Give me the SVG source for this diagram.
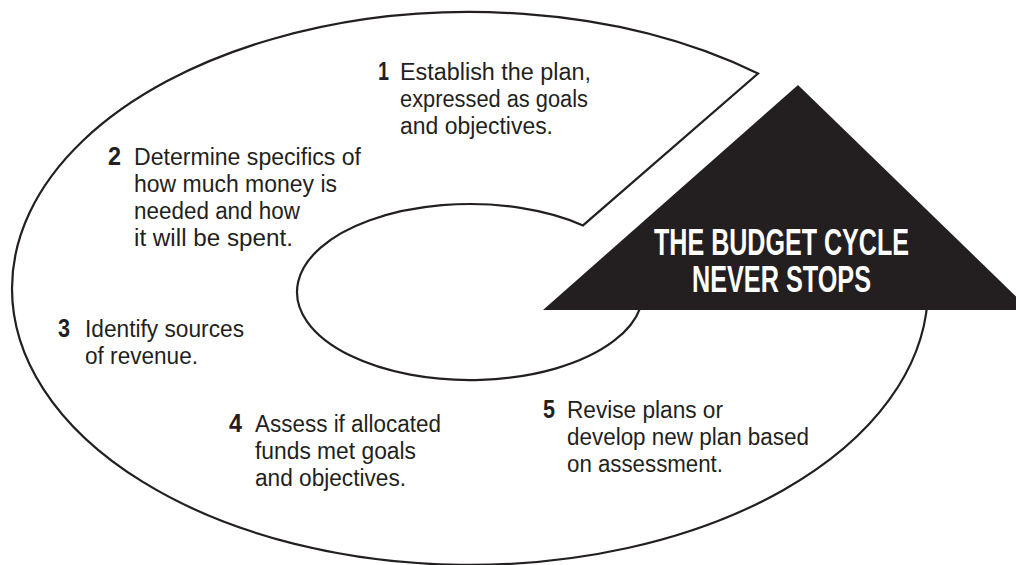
<svg xmlns="http://www.w3.org/2000/svg" width="1016" height="565" viewBox="0 0 1016 565">
<style>
.bg{fill:#ffffff}
.spiral{fill:none;stroke:#231f20;stroke-width:2.2;stroke-linejoin:miter}
.tri{fill:#231f20}
.body{font-family:"Liberation Sans",Arial,sans-serif;font-size:23px;fill:#231f20}
.num{font-family:"Liberation Sans",Arial,sans-serif;font-size:25px;font-weight:bold;fill:#231f20;text-anchor:end}
.title{font-family:"Liberation Sans",Arial,sans-serif;font-size:37px;font-weight:bold;fill:#ffffff}
</style>
<rect class="bg" x="0" y="0" width="1016" height="565"/>
<g id="connectors">
<path class="spiral" d="M 640.4,307.3 A 173 88 0 1 1 583,225.4 L 758,73.5 A 458 276.5 0 0 0 12,288.5 A 458 276.5 0 0 0 927.6,300"/>
</g>
<g id="hub">
<polygon class="tri" points="798,85 1030,310 543,310"/>
<text class="title" x="654" y="255" textLength="255" lengthAdjust="spacingAndGlyphs">THE BUDGET CYCLE</text>
<text class="title" x="692" y="292" textLength="179" lengthAdjust="spacingAndGlyphs">NEVER STOPS</text>
</g>
<g id="step1">
<text class="num" x="389" y="80" textLength="11" lengthAdjust="spacingAndGlyphs">1</text>
<text class="body" x="400" y="80" textLength="191" lengthAdjust="spacingAndGlyphs">Establish the plan,</text>
<text class="body" x="400" y="107" textLength="188" lengthAdjust="spacingAndGlyphs">expressed as goals</text>
<text class="body" x="400" y="134" textLength="153" lengthAdjust="spacingAndGlyphs">and objectives.</text>
</g>
<g id="step2">
<text class="num" x="121" y="165" textLength="13" lengthAdjust="spacingAndGlyphs">2</text>
<text class="body" x="134" y="165" textLength="227" lengthAdjust="spacingAndGlyphs">Determine specifics of</text>
<text class="body" x="134" y="192" textLength="203" lengthAdjust="spacingAndGlyphs">how much money is</text>
<text class="body" x="134" y="219" textLength="166" lengthAdjust="spacingAndGlyphs">needed and how</text>
<text class="body" x="134" y="246" textLength="159" lengthAdjust="spacingAndGlyphs">it will be spent.</text>
</g>
<g id="step3">
<text class="num" x="70" y="337" textLength="12" lengthAdjust="spacingAndGlyphs">3</text>
<text class="body" x="85" y="337" textLength="159" lengthAdjust="spacingAndGlyphs">Identify sources</text>
<text class="body" x="85" y="364" textLength="113" lengthAdjust="spacingAndGlyphs">of revenue.</text>
</g>
<g id="step4">
<text class="num" x="242" y="432" textLength="13" lengthAdjust="spacingAndGlyphs">4</text>
<text class="body" x="255" y="432" textLength="186" lengthAdjust="spacingAndGlyphs">Assess if allocated</text>
<text class="body" x="255" y="459" textLength="161" lengthAdjust="spacingAndGlyphs">funds met goals</text>
<text class="body" x="255" y="486" textLength="151" lengthAdjust="spacingAndGlyphs">and objectives.</text>
</g>
<g id="step5">
<text class="num" x="555" y="418" textLength="12" lengthAdjust="spacingAndGlyphs">5</text>
<text class="body" x="567" y="418" textLength="156" lengthAdjust="spacingAndGlyphs">Revise plans or</text>
<text class="body" x="567" y="445" textLength="242" lengthAdjust="spacingAndGlyphs">develop new plan based</text>
<text class="body" x="567" y="472" textLength="156" lengthAdjust="spacingAndGlyphs">on assessment.</text>
</g>
</svg>
